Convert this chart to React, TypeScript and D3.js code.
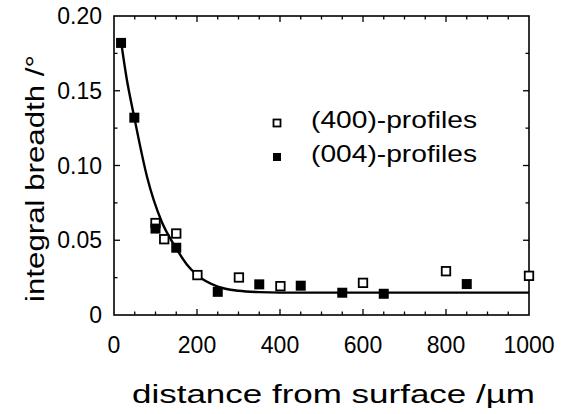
import React from "react";
import * as d3 from "d3";

const W = 572;
const H = 414;

// (400)-profiles: open squares
const openX = [100, 121, 150, 201, 301, 401, 600, 800, 1000];
const openY = [0.0615, 0.0507, 0.0545, 0.0267, 0.0251, 0.0193, 0.0215, 0.0293, 0.0262];
// (004)-profiles: filled squares
const filledX = [17, 49, 100, 150, 250, 350, 450, 550, 650, 850];
const filledY = [0.182, 0.132, 0.0578, 0.045, 0.0155, 0.0205, 0.0196, 0.0149, 0.0142, 0.0207];
// fitted curve
const fitX = [17, 30, 49, 80, 114, 149, 175, 199, 250, 300, 350, 400, 1000];
const fitY = [0.183, 0.159, 0.132, 0.092, 0.063, 0.045, 0.034, 0.027, 0.019, 0.0162, 0.0153, 0.015, 0.015];

const xTickLabels = [0, 200, 400, 600, 800, 1000];
const yTickLabels = [0, 0.05, 0.1, 0.15, 0.2];
const yTickText = ["0", "0.05", "0.10", "0.15", "0.20"];

const L = 114, R = 529, T = 16, B = 315;
const FONT = "'Liberation Sans', Arial, Helvetica, sans-serif";

export default function App() {
  const x = d3.scaleLinear().domain([0, 1000]).range([L, R]);
  const y = d3.scaleLinear().domain([0, 0.2]).range([B, T]);

  const line = d3
    .line<number>()
    .x((_, i) => x(fitX[i]))
    .y((d) => y(d))
    .curve(d3.curveMonotoneX);

  const xMinor = d3.range(50, 1000, 50);
  const yMinor = d3.range(0.025, 0.2, 0.025);

  const ticks: JSX.Element[] = [];
  xMinor.forEach((v, i) => {
    const major = Math.abs(v % 200) < 1e-6;
    const len = major ? 6 : 3.5;
    ticks.push(<line key={"xb" + i} x1={x(v)} x2={x(v)} y1={B} y2={B - len} stroke="#000" strokeWidth={1.3} />);
    ticks.push(<line key={"xt" + i} x1={x(v)} x2={x(v)} y1={T} y2={T + len} stroke="#000" strokeWidth={1.3} />);
  });
  yMinor.forEach((v, i) => {
    const major = Math.abs((v / 0.05) - Math.round(v / 0.05)) < 1e-6;
    const len = major ? 6 : 3.5;
    ticks.push(<line key={"yl" + i} x1={L} x2={L + len} y1={y(v)} y2={y(v)} stroke="#000" strokeWidth={1.3} />);
    ticks.push(<line key={"yr" + i} x1={R} x2={R - len} y1={y(v)} y2={y(v)} stroke="#000" strokeWidth={1.3} />);
  });

  const ms = 10;
  const os = 8.5;

  return (
    <svg width={W} height={H} style={{ position: "absolute", left: 0, top: 0, background: "#fff" }} fontFamily={FONT}>
      <rect x={0} y={0} width={W} height={H} fill="#fff" />
      <rect x={L} y={T} width={R - L} height={B - T} fill="none" stroke="#000" strokeWidth={1.6} />
      {ticks}
      <path d={line(fitY) || ""} fill="none" stroke="#000" strokeWidth={2.4} />
      {openX.map((v, i) => (
        <rect key={"o" + i} x={x(v) - os / 2} y={y(openY[i]) - os / 2} width={os} height={os} fill="#fff" stroke="#000" strokeWidth={1.8} />
      ))}
      {filledX.map((v, i) => (
        <rect key={"f" + i} x={x(v) - ms / 2} y={y(filledY[i]) - ms / 2} width={ms} height={ms} fill="#000" />
      ))}
      {xTickLabels.map((v, i) => (
        <text key={"xl" + i} x={x(v)} y={353} fontSize={23} textAnchor="middle" fill="#000">{v}</text>
      ))}
      {yTickLabels.map((v, i) => (
        <text key={"yl" + i} x={102} y={y(v) + 8} fontSize={23} textAnchor="end" fill="#000">{yTickText[i]}</text>
      ))}
      <text x={132} y={403} fontSize={25} textLength={403} lengthAdjust="spacingAndGlyphs" fill="#000">distance from surface /µm</text>
      <text transform="translate(44,302) rotate(-90)" x={0} y={0} fontSize={25} textLength={247} lengthAdjust="spacingAndGlyphs" fill="#000">integral breadth /°</text>
      <rect x={277 - 3.5} y={123 - 3.5} width={7} height={7} fill="#fff" stroke="#000" strokeWidth={1.8} />
      <rect x={277 - 4} y={157 - 4} width={8} height={8} fill="#000" />
      <text x={311} y={128} fontSize={24} textLength={166} lengthAdjust="spacingAndGlyphs" fill="#000">(400)-profiles</text>
      <text x={311} y={162} fontSize={24} textLength={166} lengthAdjust="spacingAndGlyphs" fill="#000">(004)-profiles</text>
    </svg>
  );
}
